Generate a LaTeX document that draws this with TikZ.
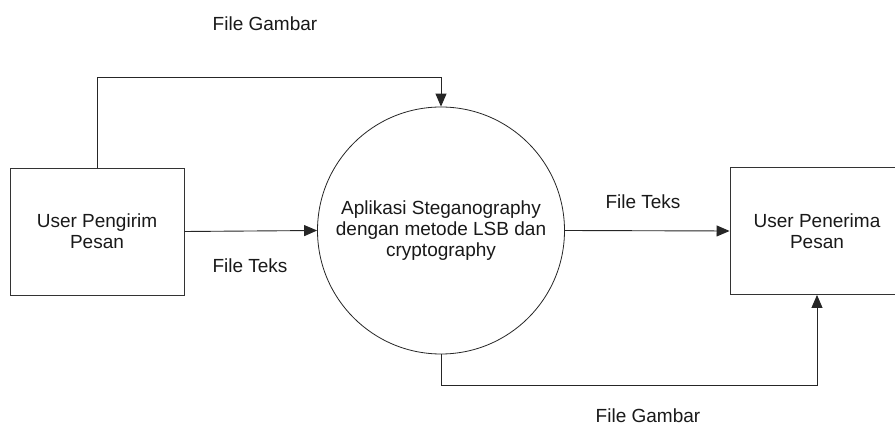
\documentclass[tikz,border=0pt]{standalone}
\usepackage{fontspec}
\setmainfont{Liberation Sans}
\usetikzlibrary{arrows.meta}
\begin{document}
\begin{tikzpicture}[x=1pt,y=-1pt,
  every node/.style={font=\fontsize{19}{21}\selectfont, text=black!90},
  entity/.style={draw=black!80, line width=0.9pt, rectangle, minimum width=174pt, minimum height=127pt, inner sep=0pt, align=center},
  process/.style={draw=black!85, line width=0.8pt, circle, minimum size=247pt, inner sep=0pt, align=center},
  flow/.style={draw=black!85, line width=0.9pt, -{Triangle[length=13pt,width=11pt]}},
  lbl/.style={inner sep=0pt}]
  \useasboundingbox (0,0) rectangle (895,427);
  \clip (0,0) rectangle (895,427);
  \fill[white] (0,0) rectangle (895,427);

  % external entities and the process
  \node[entity] (sender) at (97,231.5) {User Pengirim\\Pesan};
  \node[entity] (receiver) at (817,231) {User Penerima\\Pesan};
  \node[process] (app) at (441,230.5) {Aplikasi Steganography\\dengan metode LSB dan\\cryptography};

  % bend points of the image-file flows
  \coordinate (topbend) at (441,77);
  \coordinate (botbend) at (441,385);

  % data flows
  \draw[flow] (sender.north) |- (topbend) -- (app.north);
  \draw[flow] (sender.east) -- (app.west);
  \draw[flow] (app.east) -- (receiver.west);
  \draw[flow] (app.south) -- (botbend) -| (receiver.south);

  % flow labels
  \node[lbl] (lblimgin) at (265,24) {File Gambar};
  \node[lbl] (lbltxtin) at (250,266) {File Teks};
  \node[lbl] (lbltxtout) at (643,202) {File Teks};
  \node[lbl] (lblimgout) at (648,416) {File Gambar};
\end{tikzpicture}
\end{document}
